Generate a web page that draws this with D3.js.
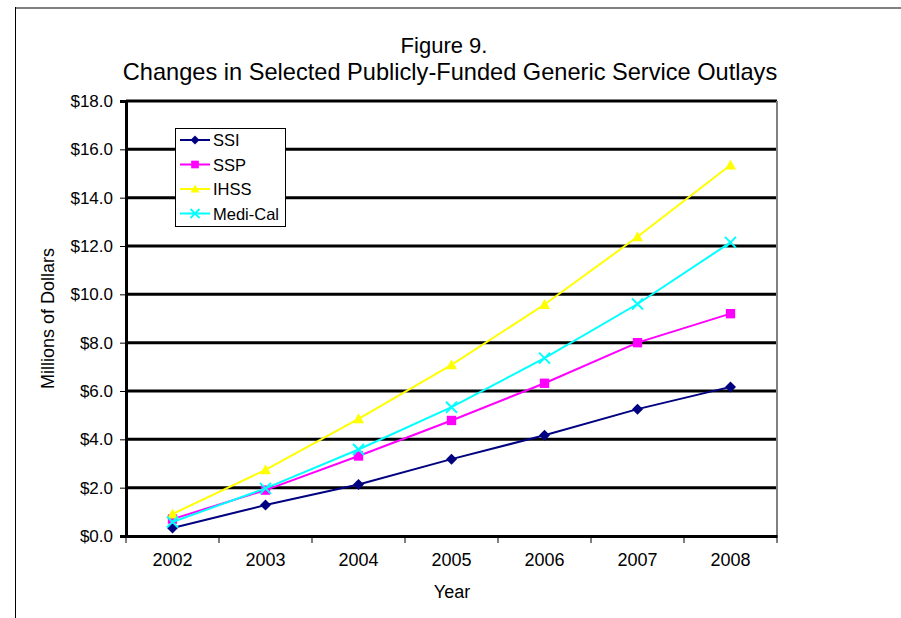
<!DOCTYPE html>
<html>
<head>
<meta charset="utf-8">
<script src="https://cdn.jsdelivr.net/npm/d3@7/dist/d3.min.js"></script>
<style>
  html, body { margin: 0; padding: 0; background: #fff; }
  svg { display: block; font-family: "Liberation Sans", Arial, sans-serif; }
</style>
</head>
<body>
<svg id="chart" width="901" height="618"></svg>
<script>
// Outlays by year, millions of dollars
const years = ["2002", "2003", "2004", "2005", "2006", "2007", "2008"];
const ssi     = [0.33, 1.28, 2.13, 3.18, 4.17, 5.25, 6.17];
const ssp     = [0.70, 1.90, 3.31, 4.78, 6.32, 8.00, 9.20];
const ihss    = [0.91, 2.74, 4.85, 7.08, 9.58, 12.38, 15.35];
const medical = [0.58, 1.97, 3.58, 5.33, 7.36, 9.60, 12.15];
const yTicks  = [0, 2, 4, 6, 8, 10, 12, 14, 16, 18];

const series = [
  { name: "SSI",      values: ssi,     color: "#000080", marker: "diamond" },
  { name: "SSP",      values: ssp,     color: "#FF00FF", marker: "square" },
  { name: "IHSS",     values: ihss,    color: "#FFFF00", marker: "triangle" },
  { name: "Medi-Cal", values: medical, color: "#00FFFF", marker: "cross" }
];

const FONT = "Liberation Sans, Arial, sans-serif";
const svg = d3.select("#chart");
const plot = { left: 126, right: 777, top: 101, bottom: 536 };

const x = d3.scaleBand().domain(years).range([plot.left, plot.right]);
const y = d3.scaleLinear().domain([0, 18]).range([plot.bottom, plot.top]);

// Outer frame
svg.append("line").attr("x1", 15).attr("x2", 901).attr("y1", 8).attr("y2", 8)
  .attr("stroke", "#808080").attr("stroke-width", 2);
svg.append("line").attr("x1", 15.5).attr("x2", 15.5).attr("y1", 7).attr("y2", 618)
  .attr("stroke", "#000").attr("stroke-width", 1);

// Titles
svg.append("text").attr("x", 444).attr("y", 53).attr("text-anchor", "middle")
  .attr("font-size", 22).text("Figure 9.");
svg.append("text").attr("x", 450).attr("y", 80).attr("text-anchor", "middle")
  .attr("font-size", 23.6).text("Changes in Selected Publicly-Funded Generic Service Outlays");

// Gridlines
svg.append("g").selectAll("line").data(yTicks.filter(d => d > 0)).join("line")
  .attr("x1", plot.left).attr("x2", plot.right)
  .attr("y1", d => y(d)).attr("y2", d => y(d))
  .attr("stroke", "#000").attr("stroke-width", 3);

// Right edge of plot area
svg.append("line").attr("x1", plot.right).attr("x2", plot.right)
  .attr("y1", plot.top).attr("y2", plot.bottom)
  .attr("stroke", "#808080").attr("stroke-width", 2);

// Y axis
const yAxis = svg.append("g").attr("transform", `translate(${plot.left},0)`)
  .call(d3.axisLeft(y).tickValues(yTicks).tickSize(6).tickPadding(7)
    .tickFormat(d => "$" + d3.format(".1f")(d)));
yAxis.select(".domain").attr("stroke", "#000").attr("stroke-width", 3);
yAxis.selectAll(".tick line").attr("stroke", "#000");
yAxis.selectAll(".tick text").attr("font-size", 17).attr("fill", "#000")
  .attr("font-family", FONT);

// X axis with ticks at category boundaries
const xAxis = svg.append("g").attr("transform", `translate(0,${plot.bottom})`)
  .call(d3.axisBottom(x).tickSize(0).tickPadding(17));
xAxis.select(".domain").attr("stroke", "#000").attr("stroke-width", 3);
xAxis.selectAll(".tick text").attr("font-size", 18).attr("fill", "#000")
  .attr("font-family", FONT);
const bounds = years.map(d => x(d)).concat([x(years[years.length - 1]) + x.bandwidth()]);
svg.append("g").selectAll("line").data(bounds).join("line")
  .attr("x1", d => d).attr("x2", d => d)
  .attr("y1", plot.bottom).attr("y2", plot.bottom + 7)
  .attr("stroke", "#000").attr("stroke-width", 1);

// Axis titles
svg.append("text").attr("x", 452).attr("y", 598).attr("text-anchor", "middle")
  .attr("font-size", 18).text("Year");
svg.append("text").attr("transform", `translate(54,${(plot.top + plot.bottom) / 2}) rotate(-90)`)
  .attr("text-anchor", "middle").attr("font-size", 18).text("Millions of Dollars");

// Marker drawing helper
function drawMarker(g, type, color, cx, cy, s) {
  if (type === "diamond") {
    g.append("path").attr("d", `M${cx},${cy - s}L${cx + s},${cy}L${cx},${cy + s}L${cx - s},${cy}Z`)
      .attr("fill", color);
  } else if (type === "square") {
    g.append("rect").attr("x", cx - s * 0.85).attr("y", cy - s * 0.85)
      .attr("width", s * 1.7).attr("height", s * 1.7).attr("fill", color);
  } else if (type === "triangle") {
    g.append("path").attr("d", `M${cx},${cy - s}L${cx + s},${cy + s * 0.8}L${cx - s},${cy + s * 0.8}Z`)
      .attr("fill", color);
  } else if (type === "cross") {
    g.append("path").attr("d", `M${cx - s},${cy - s}L${cx + s},${cy + s}M${cx - s},${cy + s}L${cx + s},${cy - s}`)
      .attr("stroke", color).attr("stroke-width", 2).attr("fill", "none");
  }
}

// Series lines and markers
const line = d3.line().x((d, i) => x(years[i]) + x.bandwidth() / 2).y(d => y(d));
series.forEach(s => {
  const g = svg.append("g");
  g.append("path").datum(s.values).attr("d", line)
    .attr("fill", "none").attr("stroke", s.color).attr("stroke-width", 2);
  s.values.forEach((v, i) => {
    drawMarker(g, s.marker, s.color, x(years[i]) + x.bandwidth() / 2, y(v), 5.5);
  });
});

// Legend
const lg = svg.append("g");
lg.append("rect").attr("x", 175.5).attr("y", 128.5).attr("width", 110).attr("height", 98)
  .attr("fill", "#fff").attr("stroke", "#000").attr("stroke-width", 1);
series.forEach((s, i) => {
  const ly = 140 + i * 24.5;
  lg.append("line").attr("x1", 180).attr("x2", 210).attr("y1", ly).attr("y2", ly)
    .attr("stroke", s.color).attr("stroke-width", 2);
  drawMarker(lg, s.marker, s.color, 195, ly, 4.5);
  lg.append("text").attr("x", 213).attr("y", ly + 6).attr("font-size", 16.5).text(s.name);
});
</script>
</body>
</html>
